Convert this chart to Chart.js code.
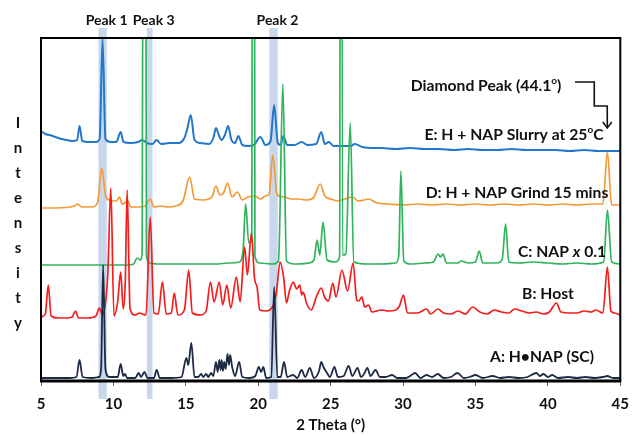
<!DOCTYPE html>
<html>
<head>
<meta charset="utf-8">
<script src="https://cdn.jsdelivr.net/npm/chart.js@4"></script>
<style>
  html, body { margin: 0; padding: 0; background: #fff; }
</style>
</head>
<body>
<canvas id="xrd" width="638" height="436"></canvas>
<script>
// PXRD overlay: five stacked patterns, intensity in arbitrary (offset) units

const xTickStep = 5;
const xMin = 5, xMax = 45;
const yMax = 343;

// highlighted 2-theta windows [from, to, label]
const peakBands = [
  [8.97, 9.54, "Peak 1"],
  [12.31, 12.70, "Peak 3"],
  [20.76, 21.35, "Peak 2"]
];

const diamondPeak = 44.1;

// [2theta, intensity]
const slurryE = [
  [5.0,250],[5.3,247],[5.6,246],[6.0,244],[6.4,242],[6.8,241],[7.2,240],[7.5,241],[7.66,255],[7.85,240],
  [8.3,239],[8.8,239],[9.05,242],[9.25,342],[9.45,242],[9.8,239],[10.2,239],[10.5,249],[10.7,239],[11.2,238],
  [11.7,239],[12.0,241],[12.3,238],[12.7,237],[12.97,241],[13.3,237],[13.9,238],[14.5,238],[14.9,243],[15.1,252],
  [15.34,266],[15.6,241],[16.0,238],[16.6,237],[16.9,243],[17.08,253],[17.3,245],[17.45,241],[17.7,246],[17.92,255],
  [18.15,241],[18.4,238],[18.63,245],[18.9,236],[19.3,235],[19.7,236],[20.15,244],[20.5,236],[20.85,240],[21.1,276],
  [21.35,238],[21.55,236],[21.74,245],[22.0,236],[22.5,236],[23.0,239],[23.4,236],[24.0,237],[24.35,249],[24.6,237],
  [24.88,239],[25.2,235],[25.8,235],[26.4,235],[26.65,237],[27.2,234],[27.8,233],[28.5,233],[29.5,232],[30.5,233],
  [31.5,232],[32.5,232],[33.5,231],[34.5,232],[35.5,231],[36.5,231],[37.5,232],[38.5,231],[39.5,231],[40.5,231],
  [41.5,230],[42.5,231],[43.5,230],[44.5,230],[45.0,230]
];

const grindD = [
  [5.0,173],[6.0,173],[7.0,174],[7.3,175],[7.54,177],[7.8,174],[8.5,174],[8.9,178],[9.2,213],[9.45,186],
  [9.7,181],[10.0,180],[10.2,180],[10.43,184],[10.6,177],[10.8,178],[10.95,181],[11.2,174],[11.8,174],[12.2,175],
  [12.54,182],[12.8,174],[13.3,175],[13.8,174],[14.3,175],[14.8,180],[15.27,204],[15.6,182],[16.2,181],[16.8,184],
  [17.08,195],[17.35,186],[17.6,188],[17.88,198],[18.2,184],[18.56,189],[18.9,181],[19.3,184],[19.79,185],[20.15,182],
  [20.5,185],[20.75,187],[21.0,226],[21.3,186],[21.8,184],[22.3,182],[22.8,182],[23.3,181],[23.8,183],[24.28,197],
  [24.6,185],[25.0,182],[25.5,180],[26.0,182],[26.5,184],[26.9,180],[27.3,181],[27.6,182],[28.2,178],[29,177],
  [30,176],[31,177],[32,176],[33,177],[34,176],[35,177],[36,176],[37,177],[38,176],[39,177],
  [40,176],[41,177],[42,176],[43,177],[43.8,177],[44.11,229],[44.4,176],[45.0,176]
];

const napC = [
  [5.0,116],[6,116],[7,116],[8,116],[9,116],[10,116],[11,116],[11.4,117],[11.63,123],[11.85,121],
  [11.98,128],[12.13,1400],[12.28,125],[12.5,118],[13,117],[14,117],[15,117],[16,117],[17,117],[18,118],
  [18.7,119],[18.95,130],[19.13,177],[19.35,138],[19.55,142],[19.66,1400],[19.77,125],[20.1,118],[21.0,117],[21.4,120],
  [21.7,297],[21.95,120],[22.5,117],[23.5,118],[23.85,121],[24.06,141],[24.25,126],[24.47,159],[24.75,121],[25.3,119],
  [25.62,124],[25.72,1400],[25.82,126],[26.05,127],[26.35,258],[26.6,119],[27.5,117],[28.5,117],[29.5,118],[29.7,125],
  [29.85,210],[30.05,120],[30.5,117],[31.5,118],[32.1,119],[32.41,127],[32.58,124],[32.76,127],[33.0,118],[33.8,118],
  [34.0,120],[34.5,118],[35.0,119],[35.26,130],[35.5,118],[36.5,118],[36.85,122],[37.08,157],[37.3,119],[38,118],
  [39,119],[40,118],[41,117],[42,118],[43,117],[43.85,119],[44.11,171],[44.4,119],[45.0,117]
];

const hostB = [
  [5.0,64],[5.3,67],[5.5,96],[5.7,65],[6.2,63],[6.8,63],[7.15,64],[7.38,70],[7.6,63],[8.2,63],
  [8.8,65],[9.02,73],[9.25,66],[9.5,84],[9.62,110],[9.82,193],[10.04,65],[10.3,80],[10.5,109],[10.68,72],
  [10.82,100],[10.95,191],[11.15,72],[11.5,66],[11.8,68],[12.0,67],[12.25,66],[12.54,164],[12.8,68],[13.1,67],
  [13.38,99],[13.65,67],[14.0,68],[14.2,88],[14.45,66],[14.9,71],[15.2,111],[15.45,68],[16.0,66],[16.4,70],
  [16.7,99],[16.95,79],[17.31,99],[17.55,76],[17.83,96],[18.1,73],[18.49,104],[18.75,79],[19.06,134],[19.25,106],
  [19.53,148],[19.75,102],[19.92,94],[20.1,71],[20.5,70],[20.8,71],[21.05,76],[21.25,88],[21.51,119],[21.75,104],
  [21.95,78],[22.15,90],[22.42,99],[22.65,92],[22.87,96],[23.0,86],[23.11,89],[23.33,78],[23.67,71],[24.01,84],
  [24.35,93],[24.58,84],[24.85,80],[25.15,98],[25.37,84],[25.78,111],[26.17,90],[26.55,118],[26.8,81],[26.95,80],
  [27.15,84],[27.35,74],[27.62,76],[27.85,69],[28.5,71],[29.0,70],[29.5,71],[29.75,75],[30.03,86],[30.3,68],
  [31.0,68],[31.62,72],[31.9,67],[32.41,72],[32.8,68],[33.3,67],[33.8,70],[34.3,67],[34.8,74],[35.3,69],
  [35.8,67],[36.3,71],[36.8,69],[37.3,68],[37.7,72],[38.2,70],[38.7,68],[39.2,69],[39.7,67],[40.1,69],
  [40.59,78],[40.9,69],[41.5,68],[42.0,68],[42.5,70],[43.0,69],[43.3,71],[43.8,68],[44.11,114],[44.35,70],
  [44.6,68],[45.0,66]
];

const cocrystalA = [
  [5.0,3],[6,3],[7,3],[7.45,4],[7.66,21],[7.87,4],[8.5,3],[9.0,4],[9.15,12],[9.29,116],
  [9.45,12],[9.7,4],[10.3,4],[10.5,17],[10.68,5],[10.8,7],[10.95,3],[11.5,3],[11.75,8],[11.9,4],
  [12.15,9],[12.35,3],[12.8,3],[12.99,11],[13.2,3],[14.0,3],[14.7,4],[15.04,23],[15.17,16],[15.38,38],
  [15.6,4],[15.85,4],[16.06,7],[16.2,4],[16.4,7],[16.55,4],[16.74,8],[16.9,5],[17.08,19],[17.2,9],
  [17.31,21],[17.4,11],[17.47,21],[17.56,10],[17.65,19],[17.75,12],[17.88,27],[17.98,16],[18.06,26],[18.2,14],
  [18.4,5],[18.68,19],[18.9,4],[19.4,3],[19.8,5],[20.04,14],[20.2,9],[20.35,14],[20.55,3],[20.9,4],
  [21.1,94],[21.32,4],[21.55,4],[21.78,19],[22.0,4],[22.4,6],[22.7,3],[22.99,11],[23.25,4],[23.56,13],
  [23.85,3],[24.2,10],[24.35,19],[24.5,14],[24.75,8],[24.95,4],[25.26,14],[25.5,4],[25.9,5],[26.24,15],
  [26.5,5],[26.85,13],[27.1,4],[27.3,7],[27.54,13],[27.75,5],[28.1,11],[28.4,4],[28.8,4],[29.24,6],
  [29.6,3],[30.2,3],[30.69,7],[30.83,8],[31.2,3],[31.62,6],[32.0,4],[32.4,7],[32.8,3],[33.3,4],
  [33.76,8],[34.2,3],[34.6,4],[35.0,6],[35.5,3],[36.2,5],[36.7,3],[37.3,4],[38.0,3],[38.6,4],
  [39.21,8],[39.45,5],[39.7,7],[40.0,4],[40.3,6],[40.7,3],[41.4,4],[42.0,3],[42.6,4],[43.2,3],
  [43.8,4],[44.1,5],[44.5,3],[45.0,3]
];

const FONT = "Lato, 'Open Sans', sans-serif";

// draw a label made of parts (plain / italic / superscript), centred on cx
function drawRich(ctx, parts, cx, cy, size){
  const fontOf = p => `${p.it ? "italic " : ""}bold ${p.sup ? Math.round(size*0.65) : size}px ${FONT}`;
  let w = 0;
  parts.forEach(p => { ctx.font = fontOf(p); p.w = ctx.measureText(p.t).width; w += p.w; });
  let x = cx - w/2;
  ctx.textAlign = "left";
  ctx.textBaseline = "middle";
  parts.forEach(p => {
    ctx.font = fontOf(p);
    ctx.fillText(p.t, x, p.sup ? cy - size*0.36 : cy);
    x += p.w;
  });
}

const decorPlugin = {
  id: "decor",
  beforeDatasetsDraw(chart){
    const ctx = chart.ctx, xs = chart.scales.x;
    ctx.save();
    ctx.fillStyle = "rgba(168,190,225,0.62)";
    peakBands.forEach(([a, b]) => {
      const x1 = xs.getPixelForValue(a), x2 = xs.getPixelForValue(b);
      ctx.fillRect(x1, 28, x2 - x1, 371);
    });
    ctx.restore();
  },
  afterDatasetsDraw(chart){
    const ctx = chart.ctx, xs = chart.scales.x;
    const { left, right, top, bottom } = chart.chartArea;
    ctx.save();

    // frame
    ctx.strokeStyle = "#000";
    ctx.lineWidth = 2;
    ctx.beginPath();
    ctx.moveTo(left, bottom); ctx.lineTo(left, top); ctx.lineTo(right, top); ctx.lineTo(right, bottom);
    ctx.stroke();
    ctx.lineWidth = 3;
    ctx.beginPath();
    ctx.moveTo(left - 1, bottom); ctx.lineTo(right + 1, bottom);
    ctx.stroke();

    ctx.fillStyle = "#111";
    // peak labels
    ctx.font = `bold 14px ${FONT}`;
    ctx.textAlign = "center";
    ctx.textBaseline = "middle";
    peakBands.forEach(([a, b, name]) => {
      const cx = (xs.getPixelForValue(a) + xs.getPixelForValue(b)) / 2 + 4;
      ctx.fillText(name, cx, 20);
    });

    // vertical "Intensity"
    ctx.font = `bold 15px ${FONT}`;
    "Intensity".split("").forEach((ch, i) => ctx.fillText(ch, 18, 123 + i*25));

    // trace labels
    const fs = 15.7;
    drawRich(ctx, [{t:"E: H + NAP Slurry at 25"}, {t:"o", sup:true}, {t:"C"}], 514, 135, fs);
    drawRich(ctx, [{t:"D: H + NAP Grind 15 mins"}], 517, 193, fs);
    drawRich(ctx, [{t:"C: NAP "}, {t:"x", it:true}, {t:" 0.1"}], 562, 252, fs);
    drawRich(ctx, [{t:"B: Host"}], 548, 294, fs);
    drawRich(ctx, [{t:"A: H\u2022NAP (SC)"}], 542, 357, fs);
    drawRich(ctx, [{t:"Diamond Peak (44.1"}, {t:"o", sup:true}, {t:")"}], 486, 86, fs);

    // elbow arrow pointing at the diamond peak
    const ax = xs.getPixelForValue(diamondPeak);
    ctx.lineWidth = 1.6;
    ctx.strokeStyle = "#111";
    ctx.beginPath();
    ctx.moveTo(575, 82); ctx.lineTo(ax - 13, 82); ctx.lineTo(ax - 13, 106);
    ctx.lineTo(ax, 106); ctx.lineTo(ax, 127);
    ctx.stroke();
    ctx.beginPath();
    ctx.moveTo(ax - 4.5, 122); ctx.lineTo(ax, 128); ctx.lineTo(ax + 4.5, 122);
    ctx.stroke();

    ctx.restore();
  }
};

function trace(label, data, color, width){
  return {
    label, data,
    borderColor: color,
    borderWidth: width,
    pointRadius: 0,
    fill: false,
    cubicInterpolationMode: "monotone"
  };
}

new Chart(document.getElementById("xrd"), {
  type: "line",
  data: {
    datasets: [
      trace("A: H\u2022NAP (SC)", cocrystalA, "#1c2a44", 1.8),
      trace("B: Host", hostB, "#f51c1c", 1.7),
      trace("C: NAP x 0.1", napC, "#2fb35c", 1.7),
      trace("D: H + NAP Grind 15 mins", grindD, "#f39a35", 1.7),
      trace("E: H + NAP Slurry at 25\u00b0C", slurryE, "#2277cc", 2)
    ]
  },
  options: {
    responsive: false,
    animation: false,
    layout: { padding: { left: 41, right: 10, top: 38, bottom: 0 } },
    plugins: { legend: { display: false }, tooltip: { enabled: false } },
    scales: {
      x: {
        type: "linear",
        min: xMin, max: xMax,
        afterFit(scale){ scale.height = 55; },
        border: { display: false },
        grid: { drawOnChartArea: false, drawTicks: true, tickLength: 5, color: "#666" },
        ticks: { stepSize: xTickStep, padding: 9, color: "#111", font: { family: FONT, size: 15, weight: "bold" } },
        title: { display: true, text: "2 Theta (\u00b0)", color: "#111", padding: { top: 0, bottom: 2 },
                 font: { family: FONT, size: 15, weight: "bold" } }
      },
      y: { display: false, min: 0, max: yMax }
    }
  },
  plugins: [decorPlugin]
});
</script>
</body>
</html>
